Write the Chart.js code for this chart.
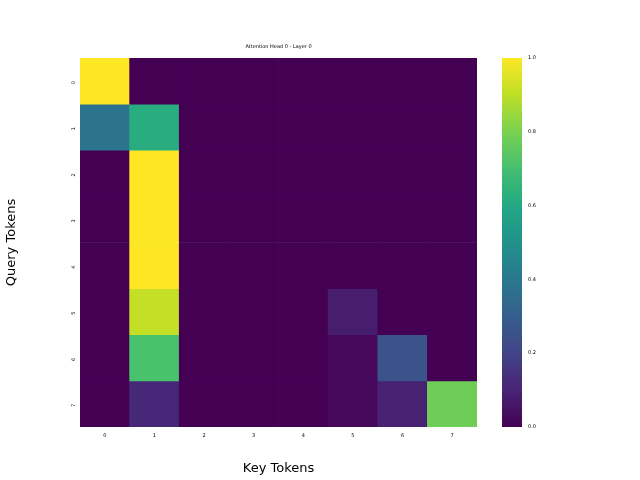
<!DOCTYPE html>
<html><head>
<script src="https://cdn.jsdelivr.net/npm/chart.js@4"></script>
<style>body{margin:0;background:#fff}#wrap{position:relative;width:640px;height:480px}canvas{position:absolute;left:0;top:0}</style>
</head><body>
<div id="wrap"><canvas id="main" width="640" height="480"></canvas><canvas id="cbar" width="640" height="480"></canvas></div>
<script>
var keyTokens = ['0','1','2','3','4','5','6','7'];
var queryTokens = ['0','1','2','3','4','5','6','7'];
// attention weights, row = query, column = key
var row0 = [1.00, 0, 0, 0, 0, 0, 0, 0];
var row1 = [0.38, 0.62, 0, 0, 0, 0, 0, 0];
var row2 = [0, 1.00, 0, 0, 0, 0, 0, 0];
var row3 = [0, 1.00, 0, 0, 0, 0, 0, 0];
var row4 = [0, 1.00, 0, 0, 0, 0, 0, 0];
var row5 = [0, 0.91, 0, 0, 0, 0.08, 0, 0];
var row6 = [0, 0.71, 0, 0, 0, 0.02, 0.25, 0];
var row7 = [0, 0.11, 0, 0, 0, 0.02, 0.09, 0.78];
var rows = [row0, row1, row2, row3, row4, row5, row6, row7];
var colorTicks = [0, 0.2, 0.4, 0.6, 0.8, 1.0];

var viridis = ['#440154','#482475','#414487','#355f8d','#2a788e','#21918c','#22a884','#44bf70','#7ad151','#bddf26','#fde725'];
function hex(h){return [parseInt(h.substr(1,2),16),parseInt(h.substr(3,2),16),parseInt(h.substr(5,2),16)];}
function cmap(t){
    t = Math.max(0, Math.min(1, t));
    var p = t * 10, i = Math.min(9, Math.floor(p)), f = p - i;
    var a = hex(viridis[i]), b = hex(viridis[i + 1]);
    return 'rgb(' + [0,1,2].map(function (k) { return Math.round(a[k] + (b[k] - a[k]) * f); }).join(',') + ')';
}

var tickFont = {family: 'DejaVu Sans', size: 5};
var datasets = rows.map(function (r, i) {
    return {
        label: 'q' + queryTokens[i],
        data: r.map(function () { return 1; }),
        backgroundColor: r.map(cmap),
        borderWidth: 0,
        barPercentage: 1,
        categoryPercentage: 1
    };
});

var titlePlugin = {
    id: 'ttl',
    afterDraw: function (chart) {
        var c = chart.ctx;
        c.save();
        c.font = '5px DejaVu Sans';
        c.fillStyle = '#000';
        c.textAlign = 'center';
        c.fillText('Attention Head 0 - Layer 0', (chart.chartArea.left + chart.chartArea.right) / 2, 48);
        c.restore();
    }
};

new Chart(document.getElementById('main'), {
    type: 'bar',
    data: {labels: keyTokens, datasets: datasets},
    plugins: [titlePlugin],
    options: {
        responsive: false,
        animation: false,
        layout: {padding: {left: 0, top: 58, right: 163, bottom: 0}},
        plugins: {legend: {display: false}, tooltip: {enabled: false}},
        scales: {
            x: {
                stacked: true,
                grid: {display: false, drawTicks: true, tickLength: 3, tickColor: '#000'},
                border: {display: false},
                ticks: {font: tickFont, color: '#000'},
                title: {display: true, text: 'Key Tokens', font: {family: 'DejaVu Sans', size: 13}, color: '#000'},
                afterFit: function (s) { s.height = 53; }
            },
            y: {
                stacked: true,
                reverse: true,
                min: 0, max: 8,
                grid: {display: false, drawTicks: true, tickLength: 3, tickColor: '#000'},
                border: {display: false},
                afterBuildTicks: function (s) {
                    s.ticks = queryTokens.map(function (q, i) { return {value: i + 0.5}; });
                },
                ticks: {
                    font: tickFont, color: '#000', minRotation: 90, maxRotation: 90,
                    callback: function (v) { return queryTokens[Math.round(v - 0.5)]; }
                },
                title: {display: true, text: 'Query Tokens', font: {family: 'DejaVu Sans', size: 13}, color: '#000'},
                afterFit: function (s) { s.width = 80; }
            }
        }
    }
});

var gradPlugin = {
    id: 'grad',
    beforeDatasetsDraw: function (chart) {
        var a = chart.chartArea, c = chart.ctx;
        var g = c.createLinearGradient(0, a.bottom, 0, a.top);
        for (var i = 0; i <= 50; i++) g.addColorStop(i / 50, cmap(i / 50));
        c.fillStyle = g;
        c.fillRect(a.left, a.top, a.right - a.left, a.bottom - a.top);
    }
};

new Chart(document.getElementById('cbar'), {
    type: 'bar',
    data: {labels: [''], datasets: [{data: []}]},
    plugins: [gradPlugin],
    options: {
        responsive: false,
        animation: false,
        layout: {padding: {left: 502, top: 58, right: 100, bottom: 53}},
        plugins: {legend: {display: false}, tooltip: {enabled: false}},
        scales: {
            x: {display: false},
            y: {
                position: 'right',
                min: 0, max: 1,
                grid: {display: false, drawTicks: true, tickLength: 3, tickColor: '#000'},
                border: {display: false},
                afterBuildTicks: function (s) { s.ticks = colorTicks.map(function (v) { return {value: v}; }); },
                ticks: {font: tickFont, color: '#000', callback: function (v) { return v.toFixed(1); }},
                afterFit: function (s) { s.width = 18; }
            }
        }
    }
});
</script>
</body></html>
